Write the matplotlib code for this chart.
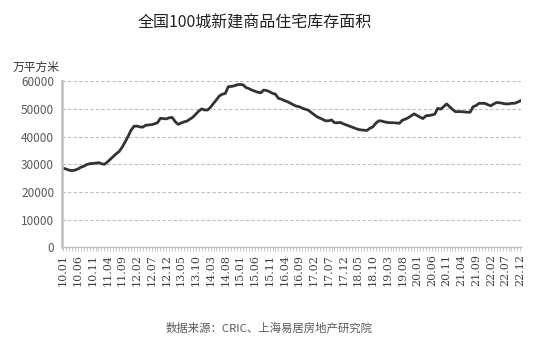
import matplotlib
matplotlib.use('Agg')
import matplotlib.pyplot as plt
import numpy as np

plt.rcParams['font.family'] = ['Noto Sans CJK SC', 'DejaVu Sans']

# monthly inventory, 2010.01 - 2022.12 (万平方米)
y2010 = [28600, 28300, 27900, 27700, 27900, 28300, 28900, 29300, 29900, 30200, 30300, 30400]
y2011 = [30600, 30200, 30000, 30800, 31800, 32800, 33800, 34600, 36100, 38000, 40000, 42200]
y2012 = [43700, 43800, 43500, 43400, 44100, 44200, 44300, 44600, 45000, 46600, 46500, 46400]
y2013 = [46800, 46900, 45400, 44400, 44900, 45300, 45600, 46300, 47000, 48100, 49200, 50000]
y2014 = [49600, 49600, 50600, 52000, 53300, 54700, 55300, 55600, 58000, 58100, 58300, 58700]
y2015 = [58800, 58700, 57700, 57300, 56800, 56400, 56000, 55800, 56800, 56600, 56200, 55600]
y2016 = [55300, 53800, 53500, 53000, 52600, 52100, 51500, 51000, 50800, 50300, 49900, 49600]
y2017 = [48800, 48000, 47200, 46700, 46200, 45700, 45700, 46000, 45000, 45000, 45100, 44600]
y2018 = [44200, 43800, 43400, 43000, 42600, 42400, 42300, 42200, 43000, 43500, 44800, 45700]
y2019 = [45600, 45300, 45100, 45000, 45000, 44900, 44800, 45900, 46300, 46800, 47500, 48200]
y2020 = [47600, 47000, 46500, 47500, 47600, 47800, 48100, 50200, 49900, 50800, 51800, 50800]
y2021 = [49800, 49000, 49000, 49000, 48900, 48800, 48800, 50800, 51200, 52000, 52000, 52000]
y2022 = [51500, 51100, 51800, 52300, 52200, 52000, 51800, 51800, 52000, 52000, 52400, 52900]

values = (y2010 + y2011 + y2012 + y2013 + y2014 + y2015 + y2016 + y2017 + y2018
          + y2019 + y2020 + y2021 + y2022)
months = ['%02d.%02d' % (yy, mm) for yy in range(10, 23) for mm in range(1, 13)]
yticks = [0, 10000, 20000, 30000, 40000, 50000, 60000]

fig = plt.figure(figsize=(5.53, 3.56), dpi=100)
ax = fig.add_axes([0.113, 0.305, 0.829, 0.467])

x = np.arange(len(values))
ax.plot(x, values, color='#333333', lw=2.0, solid_joinstyle='round')

ax.set_ylim(0, 60000)
ax.set_xlim(-0.2, len(values) - 0.8)
ax.set_yticks(yticks)
ax.set_yticklabels([str(v) for v in yticks], fontsize=8.5, color='#595959')
for v in yticks[1:]:
    ax.axhline(v, color='#bfbfbf', lw=0.8, ls=(0, (3, 2)), zorder=0)

ax.set_xticks(x, minor=True)
ax.set_xticks(x[::5])
ax.set_xticklabels(months[::5], rotation=90, fontsize=8, color='#404040',
                   family='DejaVu Serif')
ax.tick_params(axis='x', which='both', length=3, color='#bfbfbf', width=0.6, pad=2)
ax.tick_params(axis='y', length=0, pad=6)

for s in ['top', 'right']:
    ax.spines[s].set_visible(False)
ax.spines['left'].set_color('#bfbfbf')
ax.spines['left'].set_linewidth(1.8)
ax.spines['bottom'].set_color('#bfbfbf')
ax.spines['bottom'].set_linewidth(1.0)

fig.text(0.461, 0.935, '全国100城新建商品住宅库存面积', ha='center', va='center',
         fontsize=11.5, fontweight='medium', color='#222222')
fig.text(0.022, 0.81, '万平方米', ha='left', va='center', fontsize=8.5, color='#333333')
fig.text(0.487, 0.078, '数据来源：CRIC、上海易居房地产研究院', ha='center', va='center',
         fontsize=8.2, color='#595959')

fig.savefig('out.png', dpi=100)
